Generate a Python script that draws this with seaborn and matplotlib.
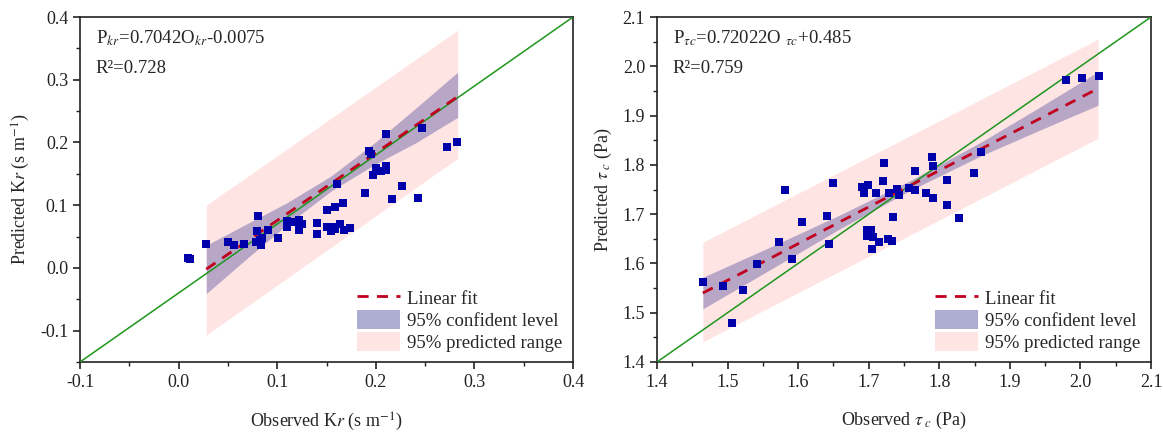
"""Observed vs predicted Kr and tau_c, with linear fit, confidence and prediction bands"""

import matplotlib
matplotlib.use("Agg")
from matplotlib import pyplot as plt
from matplotlib.lines import Line2D
from matplotlib.patches import Patch
import seaborn as sns
import pandas as pd

# ---- Kr panel (s m-1) ----
kr_obs = [0.0099, 0.0115, 0.028, 0.0505, 0.0565, 0.066, 0.0803, 0.0792, 0.0785, 0.0825,
          0.0835, 0.0845, 0.0903, 0.1005, 0.110, 0.110, 0.118, 0.1225, 0.125, 0.1225,
          0.140, 0.140, 0.150, 0.150, 0.155, 0.157, 0.1585, 0.1586, 0.1603, 0.164,
          0.167, 0.168, 0.1742, 0.1886, 0.1934, 0.195, 0.1975, 0.2002, 0.2052, 0.2105,
          0.2105, 0.210, 0.2168, 0.2266, 0.2431, 0.2465, 0.272, 0.2828]
kr_pred = [0.016, 0.015, 0.0385, 0.041, 0.037, 0.0385, 0.083, 0.059, 0.042, 0.044,
           0.036, 0.047, 0.060, 0.047, 0.075, 0.065, 0.0735, 0.077, 0.070, 0.060,
           0.071, 0.0534, 0.0925, 0.0656, 0.059, 0.0656, 0.062, 0.0975, 0.133, 0.070,
           0.104, 0.060, 0.063, 0.120, 0.187, 0.181, 0.1475, 0.1586, 0.155, 0.213,
           0.162, 0.156, 0.1095, 0.131, 0.1113, 0.2228, 0.1925, 0.2006]
kr_band_x = [0.028, 0.07, 0.11, 0.155, 0.20, 0.24, 0.283]
kr_fit = [-0.002, 0.0433, 0.0864, 0.135, 0.1835, 0.2266, 0.273]
kr_ci_lo = [-0.041, 0.016, 0.069, 0.123, 0.166, 0.199, 0.240]
kr_ci_hi = [0.036, 0.071, 0.104, 0.147, 0.201, 0.254, 0.312]
kr_pi_x = [0.028, 0.283]
kr_pi_lo = [-0.107, 0.1746]
kr_pi_hi = [0.100, 0.379]

# ---- tau_c panel (Pa) ----
tc_obs = [1.4656, 1.493, 1.5214, 1.5058, 1.5413, 1.5729, 1.5913, 1.5814, 1.605, 1.641,
          1.6442, 1.649, 1.690, 1.6938, 1.699, 1.697, 1.703, 1.698, 1.706, 1.714,
          1.704, 1.727, 1.733, 1.7108, 1.7212, 1.7207, 1.7292, 1.735, 1.7396, 1.7425,
          1.7567, 1.766, 1.766, 1.7807, 1.7897, 1.7906, 1.791, 1.8105, 1.8105, 1.8284,
          1.8497, 1.8596, 1.9796, 2.0027, 2.0259]
tc_pred = [1.563, 1.555, 1.546, 1.4786, 1.599, 1.644, 1.609, 1.750, 1.684, 1.697,
           1.639, 1.764, 1.7545, 1.7435, 1.7585, 1.668, 1.668, 1.656, 1.653, 1.643,
           1.630, 1.650, 1.6455, 1.7435, 1.803, 1.767, 1.7423, 1.695, 1.7517, 1.739,
           1.7525, 1.787, 1.749, 1.7435, 1.816, 1.798, 1.7334, 1.7693, 1.719, 1.693,
           1.7835, 1.8255, 1.9722, 1.977, 1.981]
tc_band_x = [1.465, 1.56, 1.66, 1.76, 1.86, 1.94, 2.025]
tc_fit = [1.540, 1.610, 1.685, 1.759, 1.833, 1.892, 1.955]
tc_ci_lo = [1.508, 1.587, 1.671, 1.749, 1.819, 1.869, 1.921]
tc_ci_hi = [1.572, 1.633, 1.699, 1.769, 1.847, 1.915, 1.989]
tc_pi_x = [1.465, 2.025]
tc_pi_lo = [1.441, 1.854]
tc_pi_hi = [1.643, 2.055]

SCATTER_C = "#0000AA"
FIT_C = "#C0001E"
DIAG_C = "#1E961E"
CI_C = "#4B4B9A"
PI_C = "#FFE4E4"

sns.set_theme(style="ticks")
plt.rcParams["font.family"] = ["Liberation Serif", "DejaVu Serif"]
plt.rcParams["mathtext.fontset"] = "stix"
plt.rcParams["axes.unicode_minus"] = False
plt.rcParams["axes.linewidth"] = 1.2
plt.rcParams["xtick.major.width"] = 1.2
plt.rcParams["ytick.major.width"] = 1.2
plt.rcParams["xtick.minor.width"] = 1.0
plt.rcParams["ytick.minor.width"] = 1.0
plt.rcParams["xtick.major.size"] = 5
plt.rcParams["ytick.major.size"] = 5
plt.rcParams["xtick.minor.size"] = 3
plt.rcParams["ytick.minor.size"] = 3


def draw_panel(ax, obs, pred, band_x, fit, ci_lo, ci_hi, pi_x, pi_lo, pi_hi,
               lims_x, lims_y, step, eq_text, r2_text, xlabel, ylabel):
    ax.fill_between(pi_x, pi_lo, pi_hi, color=PI_C, lw=0, zorder=1)
    ax.fill_between(band_x, ci_lo, ci_hi, color=CI_C, alpha=0.4, lw=0, zorder=2)
    ax.plot([0, 1], [0, 1], transform=ax.transAxes, color=DIAG_C, lw=1.1, zorder=3)
    fit_df = pd.DataFrame({"x": band_x, "y": fit})
    sns.lineplot(data=fit_df, x="x", y="y", ax=ax, color=FIT_C, lw=2,
                 dashes=[(4, 3)], style=[0] * len(band_x), legend=False, zorder=4)
    pts = pd.DataFrame({"obs": obs, "pred": pred})
    sns.scatterplot(data=pts, x="obs", y="pred", ax=ax, marker="s", s=34,
                    color=SCATTER_C, linewidth=0, zorder=5)

    ax.set_xlim(*lims_x)
    ax.set_ylim(*lims_y)
    ax.xaxis.set_major_locator(plt.MultipleLocator(step))
    ax.xaxis.set_minor_locator(plt.MultipleLocator(step / 2))
    ax.yaxis.set_major_locator(plt.MultipleLocator(step))
    ax.yaxis.set_minor_locator(plt.MultipleLocator(step / 2))
    ax.xaxis.set_major_formatter(plt.FormatStrFormatter("%.1f"))
    ax.yaxis.set_major_formatter(plt.FormatStrFormatter("%.1f"))
    ax.tick_params(which="both", direction="out", top=False, right=False,
                   labelsize=13, colors="#222222")
    for sp in ax.spines.values():
        sp.set_color("#222222")
    ax.set_xlabel(xlabel, fontsize=13, labelpad=14)
    ax.set_ylabel(ylabel, fontsize=13, labelpad=6)

    ax.text(0.032, 0.94, eq_text, transform=ax.transAxes, fontsize=13.5, va="center")
    ax.text(0.032, 0.85, r2_text, transform=ax.transAxes, fontsize=13.5, va="center")

    handles = [Line2D([], [], color=FIT_C, lw=2, dashes=(4, 3)),
               Patch(facecolor=CI_C, alpha=0.45, lw=0),
               Patch(facecolor=PI_C, lw=0)]
    labels = ["Linear fit", "95% confident level", "95% predicted range"]
    ax.legend(handles, labels, loc="lower right", frameon=False, fontsize=13.5,
              handlelength=2.3, handleheight=1.2, labelspacing=0.1,
              handletextpad=0.4, borderaxespad=0.15)


fig = plt.figure(figsize=(11.63, 4.34), dpi=100)
ax1 = fig.add_axes([0.0688, 0.1659, 0.4239, 0.7949])
ax2 = fig.add_axes([0.5649, 0.1659, 0.4248, 0.7949])

draw_panel(ax1, kr_obs, kr_pred, kr_band_x, kr_fit, kr_ci_lo, kr_ci_hi,
           kr_pi_x, kr_pi_lo, kr_pi_hi, (-0.1, 0.4), (-0.15, 0.4), 0.1,
           r"P$_{kr}$=0.7042O$_{kr}$-0.0075", "R²=0.728",
           r"Observed K$r$ (s m$^{-1}$)", r"Predicted K$r$ (s m$^{-1}$)")
draw_panel(ax2, tc_obs, tc_pred, tc_band_x, tc_fit, tc_ci_lo, tc_ci_hi,
           tc_pi_x, tc_pi_lo, tc_pi_hi, (1.4, 2.1), (1.4, 2.1), 0.1,
           r"P$_{\tau c}$=0.72022O $_{\tau c}$+0.485", "R²=0.759",
           r"Observed $\tau_{\ c}$ (Pa)", r"Predicted $\tau_{\ c}$ (Pa)")

fig.savefig("out.png", dpi=100)
plt.close(fig)
